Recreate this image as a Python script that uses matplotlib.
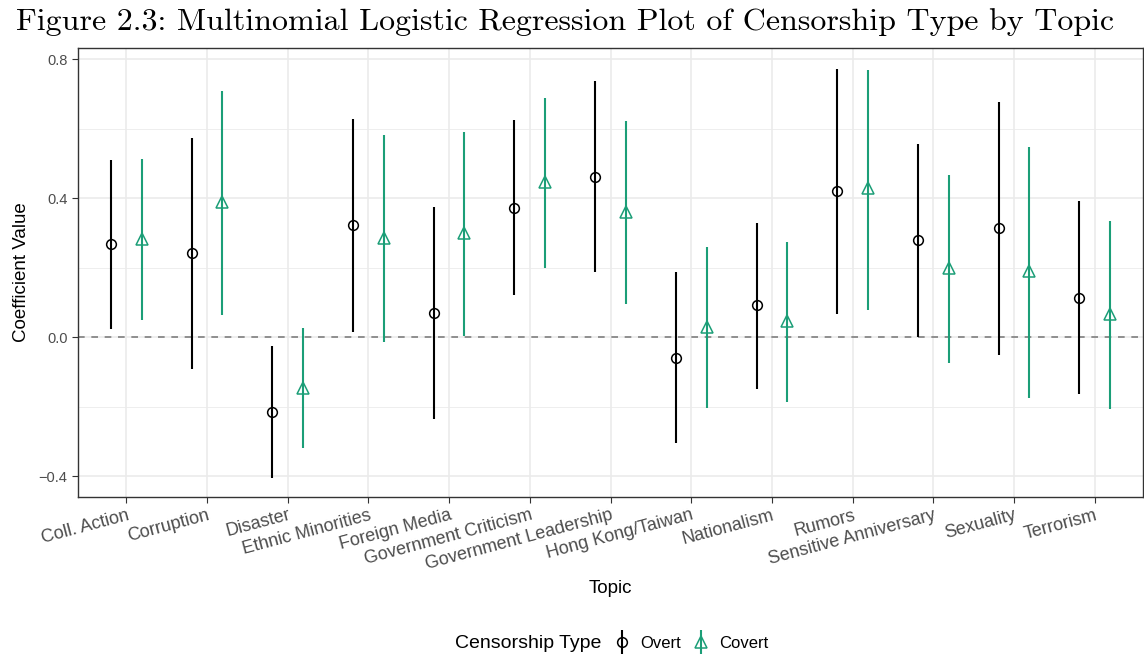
import matplotlib
matplotlib.use("Agg")
import matplotlib.pyplot as plt
from matplotlib.lines import Line2D
from matplotlib.legend_handler import HandlerTuple
import numpy as np

plt.rcParams['font.family'] = ['Liberation Sans', 'DejaVu Sans']

# 数据
topics = ["Coll. Action", "Corruption", "Disaster", "Ethnic Minorities", "Foreign Media",
          "Government Criticism", "Government Leadership", "Hong Kong/Taiwan", "Nationalism",
          "Rumors", "Sensitive Anniversary", "Sexuality", "Terrorism"]

overt_est = [0.267, 0.241, -0.215, 0.324, 0.069, 0.373, 0.461, -0.060, 0.092, 0.420, 0.279, 0.314, 0.114]
overt_lo = [0.022, -0.093, -0.405, 0.015, -0.236, 0.120, 0.188, -0.306, -0.148, 0.066, 0.001, -0.050, -0.164]
overt_hi = [0.509, 0.574, -0.026, 0.629, 0.375, 0.626, 0.736, 0.187, 0.329, 0.772, 0.556, 0.677, 0.391]

covert_est = [0.282, 0.388, -0.145, 0.286, 0.300, 0.447, 0.361, 0.030, 0.047, 0.428, 0.200, 0.190, 0.068]
covert_lo = [0.049, 0.063, -0.320, -0.015, 0.004, 0.200, 0.094, -0.205, -0.186, 0.079, -0.073, -0.174, -0.206]
covert_hi = [0.513, 0.709, 0.025, 0.581, 0.589, 0.687, 0.623, 0.258, 0.273, 0.770, 0.467, 0.547, 0.333]

OVERT_COLOR = "black"
COVERT_COLOR = "#1B9E77"

fig = plt.figure(figsize=(11.44, 6.56), dpi=100)
ax = fig.add_axes([78 / 1144, 1 - 497 / 656, 1065 / 1144, 449 / 656])

x = np.arange(1, len(topics) + 1)
dodge = 0.19

# 误差线 + 点
ax.vlines(x - dodge, overt_lo, overt_hi, color=OVERT_COLOR, linewidth=1.5, zorder=3)
ax.plot(x - dodge, overt_est, linestyle='none', marker='o', markersize=7,
        markerfacecolor='none', markeredgecolor=OVERT_COLOR, markeredgewidth=1.1, zorder=4)
ax.vlines(x + dodge, covert_lo, covert_hi, color=COVERT_COLOR, linewidth=1.5, zorder=3)
ax.plot(x + dodge, covert_est, linestyle='none', marker='^', markersize=8,
        markerfacecolor='none', markeredgecolor=COVERT_COLOR, markeredgewidth=1.1, zorder=4)

ax.axhline(0, color='#7F7F7F', linestyle=(0, (4, 4)), linewidth=1.2, zorder=2)

# 坐标轴
ax.set_xlim(0.4, 13.6)
ax.set_ylim(-0.46, 0.832)
ax.set_xticks(x)
ax.set_xticklabels(topics, rotation=15, ha='right', rotation_mode='anchor',
                   fontsize=13, color='#4D4D4D')
ax.set_yticks([-0.4, 0.0, 0.4, 0.8])
ax.set_yticklabels(["\u22120.4", "0.0", "0.4", "0.8"], fontsize=10.5, color='#4D4D4D')
ax.set_yticks([-0.2, 0.2, 0.6], minor=True)
ax.tick_params(axis='both', which='major', length=4, width=0.8, color='#333333')
ax.tick_params(axis='y', which='minor', length=0)
ax.tick_params(axis='x', pad=3)

ax.grid(True, which='major', color='#EBEBEB', linewidth=1.2, zorder=0)
ax.grid(True, which='minor', axis='y', color='#EBEBEB', linewidth=0.6, zorder=0)
ax.set_axisbelow(True)
for s in ax.spines.values():
    s.set_color('#333333')
    s.set_linewidth(1.0)

ax.set_xlabel("Topic", fontsize=13.5, labelpad=5)
ax.set_ylabel("Coefficient Value", fontsize=13.5, labelpad=6)

fig.text(565 / 1144, 0.966, "Figure 2.3: Multinomial Logistic Regression Plot of Censorship Type by Topic",
         ha='center', va='center', fontsize=23, family='cmr10')

# 图例
h_overt = (Line2D([], [], color=OVERT_COLOR, marker='|', markersize=17, markeredgewidth=1.5, linestyle='none'),
           Line2D([], [], color=OVERT_COLOR, marker='o', markersize=7, markerfacecolor='none',
                  markeredgewidth=1.1, linestyle='none'))
h_covert = (Line2D([], [], color=COVERT_COLOR, marker='|', markersize=17, markeredgewidth=1.5, linestyle='none'),
            Line2D([], [], color=COVERT_COLOR, marker='^', markersize=8, markerfacecolor='none',
                   markeredgewidth=1.1, linestyle='none'))
fig.text(455 / 1144, 1 - 643 / 656, "Censorship Type", fontsize=14, ha='left', va='center')
fig.legend([h_overt, h_covert], ["Overt", "Covert"],
           handler_map={tuple: HandlerTuple(ndivide=1)},
           loc='center left', bbox_to_anchor=(612 / 1144, 1 - 643 / 656), ncol=2,
           frameon=False, fontsize=12, handlelength=1.2, handletextpad=0.5,
           columnspacing=0.6, borderaxespad=0, borderpad=0)

fig.savefig("out.png", dpi=100)
